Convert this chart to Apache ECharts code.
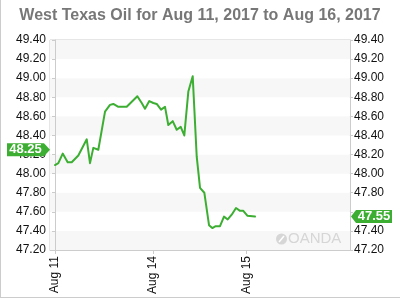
<!DOCTYPE html>
<html><head><meta charset="utf-8">
<script src="https://cdn.jsdelivr.net/npm/echarts@6/dist/echarts.min.js"></script>
<style>html,body{margin:0;padding:0;background:#fff}#c{width:400px;height:300px}</style>
</head><body><div id="c"></div>
<script>
// ---- data ----
const titleText = 'West Texas Oil for Aug 11, 2017 to Aug 16, 2017';
// trading hours since Aug 11 (weekend removed)
const hours = [0, 0.84, 1.95, 3.2, 4.23, 5.9, 8.03, 8.86, 9.7, 10.96, 12.66, 13.92, 14.76, 16.03, 18.15,
  20.84, 21.95, 22.78, 23.87, 24.89, 25.75, 26.84, 27.85, 28.68, 29.8, 30.81, 31.82, 32.73, 33.75,
  34.86, 35.19, 35.87, 36.71, 37.8, 38.99, 39.82, 40.68, 41.77, 42.78, 43.72, 44.73, 45.82, 46.84,
  47.67, 48.68, 50.63];
const prices = [48.09, 48.11, 48.21, 48.12, 48.12, 48.19, 48.36, 48.11, 48.27, 48.25, 48.65, 48.72, 48.73, 48.70, 48.70,
  48.81, 48.74, 48.68, 48.76, 48.74, 48.73, 48.67, 48.70, 48.51, 48.55, 48.46, 48.49, 48.40, 48.86,
  49.02, 49.02, 48.18, 47.85, 47.80, 47.46, 47.43, 47.45, 47.45, 47.55, 47.52, 47.57, 47.64, 47.61,
  47.61, 47.56, 47.55];
const xTickValues = [0, 24.8, 48.5];
const xTickLabels = ['Aug 11', 'Aug 14', 'Aug 15'];
const xRange = [-1.27, 74.68];
const yMin = 47.2, yMax = 49.4, yStep = 0.2;
const firstMarker = 48.25;
const lastMarker = 47.55;

// ---- chart ----
const green = '#3cae32';
const font = '"Liberation Sans", Arial, sans-serif';
const chart = echarts.init(document.getElementById('c'), null, {renderer: 'canvas'});
const seriesData = hours.map((h, i) => [h, prices[i]]);
const yAxisBase = {
  type: 'value', min: yMin, max: yMax, interval: yStep,
  axisLine: {show: true, lineStyle: {color: '#ccc'}},
  axisTick: {show: true, length: 3, lineStyle: {color: '#ccc'}},
  splitLine: {show: false},
  axisLabel: {color: '#111', fontSize: 12, fontFamily: font, margin: 4,
    formatter: v => v.toFixed(2)}
};
chart.setOption({
  animation: false,
  title: {text: titleText, left: 'center', top: 3,
    textStyle: {fontSize: 16, fontWeight: 'bold', color: '#777', fontFamily: font}},
  grid: {left: 50, right: 50, top: 40, bottom: 50, show: true, borderColor: '#ccc', borderWidth: 1},
  xAxis: {
    type: 'value', min: xRange[0], max: xRange[1],
    splitLine: {show: false},
    axisLine: {show: true, lineStyle: {color: '#ccc'}},
    axisTick: {show: true, length: 4, customValues: xTickValues, lineStyle: {color: '#ccc'}},
    axisLabel: {customValues: xTickValues, rotate: 90, color: '#111', fontSize: 12, fontFamily: font, margin: 6,
      formatter: v => { const i = xTickValues.findIndex(t => Math.abs(t - v) < 1e-6); return i >= 0 ? xTickLabels[i] : ''; }}
  },
  yAxis: [
    Object.assign({}, yAxisBase, {position: 'left',
      splitArea: {show: true, areaStyle: {color: ['#f7f7f7', '#ffffff']}}}),
    Object.assign({}, yAxisBase, {position: 'right', splitArea: {show: false},
      axisLabel: Object.assign({}, yAxisBase.axisLabel, {
        formatter: v => Math.abs(v - lastMarker) < 0.08 ? '' : v.toFixed(2)})})
  ],
  series: [{
    type: 'line', data: seriesData, yAxisIndex: 0, symbol: 'none', smooth: false,
    lineStyle: {color: green, width: 2, join: 'round', cap: 'round'}
  }]
});

const yFirst = chart.convertToPixel({yAxisIndex: 0}, firstMarker);
const yLast = chart.convertToPixel({yAxisIndex: 0}, lastMarker);
const h = 6.5;
chart.setOption({
  graphic: [
    {type: 'line', shape: {x1: 0.5, y1: 0, x2: 0.5, y2: 297.5}, style: {stroke: '#ccc', lineWidth: 1}, silent: true},
    {type: 'line', shape: {x1: 0, y1: 297.5, x2: 400, y2: 297.5}, style: {stroke: '#ccc', lineWidth: 1}, silent: true},
    {type: 'polygon', shape: {points: [[7, yFirst - h], [44, yFirst - h], [50, yFirst], [44, yFirst + h], [7, yFirst + h]]},
      style: {fill: green}, z: 100},
    {type: 'text', x: 25.5, y: yFirst, style: {text: firstMarker.toFixed(2), fill: '#fff', font: 'bold 13px ' + font,
      textAlign: 'center', textVerticalAlign: 'middle'}, z: 101},
    {type: 'polygon', shape: {points: [[351, yLast], [356, yLast - h], [392, yLast - h], [392, yLast + h], [356, yLast + h]]},
      style: {fill: green}, z: 100},
    {type: 'text', x: 374, y: yLast, style: {text: lastMarker.toFixed(2), fill: '#fff', font: 'bold 13px ' + font,
      textAlign: 'center', textVerticalAlign: 'middle'}, z: 101},
    {type: 'circle', shape: {cx: 281.5, cy: 239, r: 5.5}, style: {fill: '#d6d6d6'}, z: 5, silent: true},
    {type: 'line', shape: {x1: 279, y1: 242, x2: 284, y2: 236}, style: {stroke: '#fff', lineWidth: 1.5}, z: 6, silent: true},
    {type: 'text', x: 288, y: 239, style: {text: 'OANDA', fill: '#d6d6d6', font: '15px ' + font,
      textVerticalAlign: 'middle'}, z: 5, silent: true}
  ]
});
</script>
</body></html>
